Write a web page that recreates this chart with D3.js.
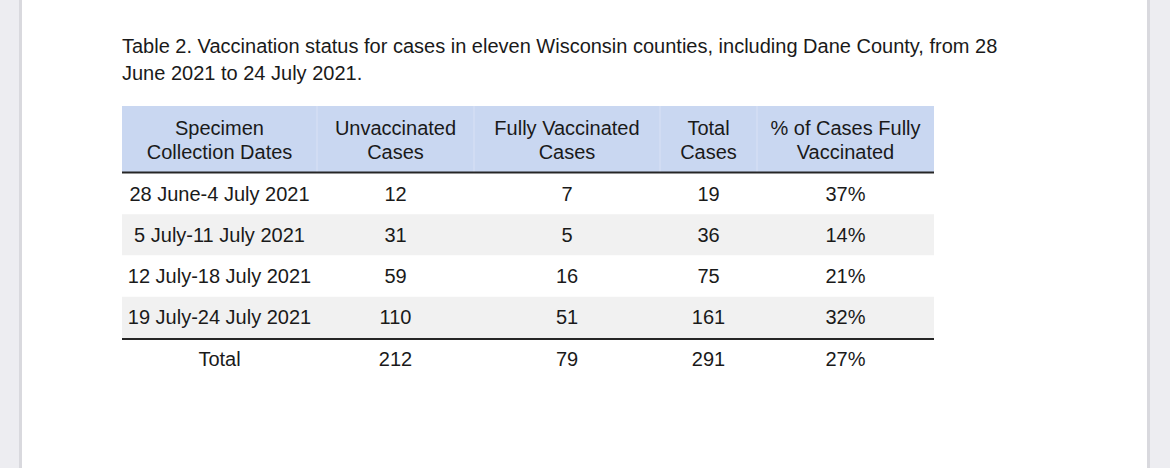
<!DOCTYPE html>
<html>
<head>
<meta charset="utf-8">
<script src="https://cdn.jsdelivr.net/npm/d3@7"></script>
<style>
  html, body { margin: 0; padding: 0; background: #ededf1; }
  svg { display: block; font-family: "Liberation Sans", Arial, sans-serif; }
</style>
</head>
<body>
<svg id="table"></svg>
<script>
// table content
const titleLines = [
  "Table 2. Vaccination status for cases in eleven Wisconsin counties, including Dane County, from 28",
  "June 2021 to 24 July 2021."
];
const headers = [
  ["Specimen", "Collection Dates"],
  ["Unvaccinated", "Cases"],
  ["Fully Vaccinated", "Cases"],
  ["Total", "Cases"],
  ["% of Cases Fully", "Vaccinated"]
];
const dates = ["28 June-4 July 2021", "5 July-11 July 2021", "12 July-18 July 2021", "19 July-24 July 2021"];
const unvaccinated = [12, 31, 59, 110];
const fullyVaccinated = [7, 5, 16, 51];
const totalCases = [19, 36, 75, 161];
const pctFully = [37, 14, 21, 32];
const totalRow = ["Total", 212, 79, 291, 27];

const width = 1170;
const height = 468;

const svg = d3.select("#table")
  .attr("width", width)
  .attr("height", height);

// page sheet + edge shadows
svg.append("rect").attr("x", 0).attr("y", 0).attr("width", width).attr("height", height).attr("fill", "#ededf1");
svg.append("rect").attr("x", 19).attr("y", 0).attr("width", 4).attr("height", height).attr("fill", "#d9d9de");
svg.append("rect").attr("x", 1146).attr("y", 0).attr("width", 4).attr("height", height).attr("fill", "#d9d9de");
svg.append("rect").attr("x", 22).attr("y", 0).attr("width", 1125).attr("height", height).attr("fill", "#ffffff");

// title
svg.append("g").selectAll("text")
  .data(titleLines)
  .enter()
  .append("text")
  .attr("x", 122)
  .attr("y", (d, i) => 46 + i * 27)
  .attr("dy", "0.35em")
  .attr("font-size", 20)
  .attr("fill", "#1a1a1a")
  .text(d => d);

// column edges
const colEdges = [122, 317, 474, 660, 757, 934];
const colX = i => colEdges[i];
const colW = i => colEdges[i + 1] - colEdges[i];
const colMid = i => (colEdges[i] + colEdges[i + 1]) / 2;

const tableLeft = colEdges[0];
const tableRight = colEdges[colEdges.length - 1];

// header
const headerTop = 106, headerBottom = 172;
const hg = svg.append("g");
hg.selectAll("rect")
  .data(headers)
  .enter()
  .append("rect")
  .attr("x", (d, i) => colX(i))
  .attr("y", headerTop)
  .attr("width", (d, i) => colW(i))
  .attr("height", headerBottom - headerTop)
  .attr("fill", "#c9d7f1");
hg.selectAll("line.sep")
  .data(colEdges.slice(1, -1))
  .enter()
  .append("line")
  .attr("class", "sep")
  .attr("x1", d => d).attr("x2", d => d)
  .attr("y1", headerTop).attr("y2", headerBottom)
  .attr("stroke", "#d3def3")
  .attr("stroke-width", 1.5);
hg.selectAll("text")
  .data(headers)
  .enter()
  .append("text")
  .attr("x", (d, i) => colMid(i))
  .attr("text-anchor", "middle")
  .attr("font-size", 20)
  .attr("fill", "#1a1a1a")
  .each(function(d) {
    d3.select(this).selectAll("tspan")
      .data(d)
      .enter()
      .append("tspan")
      .attr("x", d3.select(this).attr("x"))
      .attr("y", (t, j) => 128 + j * 23.5)
      .attr("dy", "0.35em")
      .text(t => t);
  });

// body rows
const rows = dates.map((d, i) => [d, unvaccinated[i], fullyVaccinated[i], totalCases[i], pctFully[i] + "%"]);

const yScale = d3.scaleBand()
  .domain(d3.range(rows.length))
  .range([173, 338])
  .padding(0);

const bg = svg.append("g");
bg.selectAll("rect")
  .data(rows)
  .enter()
  .append("rect")
  .attr("x", tableLeft)
  .attr("y", (d, i) => yScale(i))
  .attr("width", tableRight - tableLeft)
  .attr("height", yScale.bandwidth())
  .attr("fill", (d, i) => i % 2 === 1 ? "#f1f1f1" : "#ffffff");

const rowG = bg.selectAll("g.row")
  .data(rows)
  .enter()
  .append("g")
  .attr("class", "row")
  .attr("transform", (d, i) => `translate(0,${yScale(i) + yScale.bandwidth() / 2})`);
rowG.selectAll("text")
  .data(d => d)
  .enter()
  .append("text")
  .attr("x", (d, i) => colMid(i))
  .attr("dy", "0.35em")
  .attr("text-anchor", "middle")
  .attr("font-size", 20)
  .attr("fill", "#1a1a1a")
  .text(d => d);

// rules
svg.append("line")
  .attr("x1", tableLeft).attr("x2", tableRight)
  .attr("y1", headerBottom + 0.5).attr("y2", headerBottom + 0.5)
  .attr("stroke", "#262626").attr("stroke-width", 2);
svg.append("line")
  .attr("x1", tableLeft).attr("x2", tableRight)
  .attr("y1", 339).attr("y2", 339)
  .attr("stroke", "#262626").attr("stroke-width", 2);

// total row
const totals = [totalRow[0], totalRow[1], totalRow[2], totalRow[3], totalRow[4] + "%"];
svg.append("g").selectAll("text")
  .data(totals)
  .enter()
  .append("text")
  .attr("x", (d, i) => colMid(i))
  .attr("y", 359)
  .attr("dy", "0.35em")
  .attr("text-anchor", "middle")
  .attr("font-size", 20)
  .attr("fill", "#1a1a1a")
  .text(d => d);
</script>
</body>
</html>
